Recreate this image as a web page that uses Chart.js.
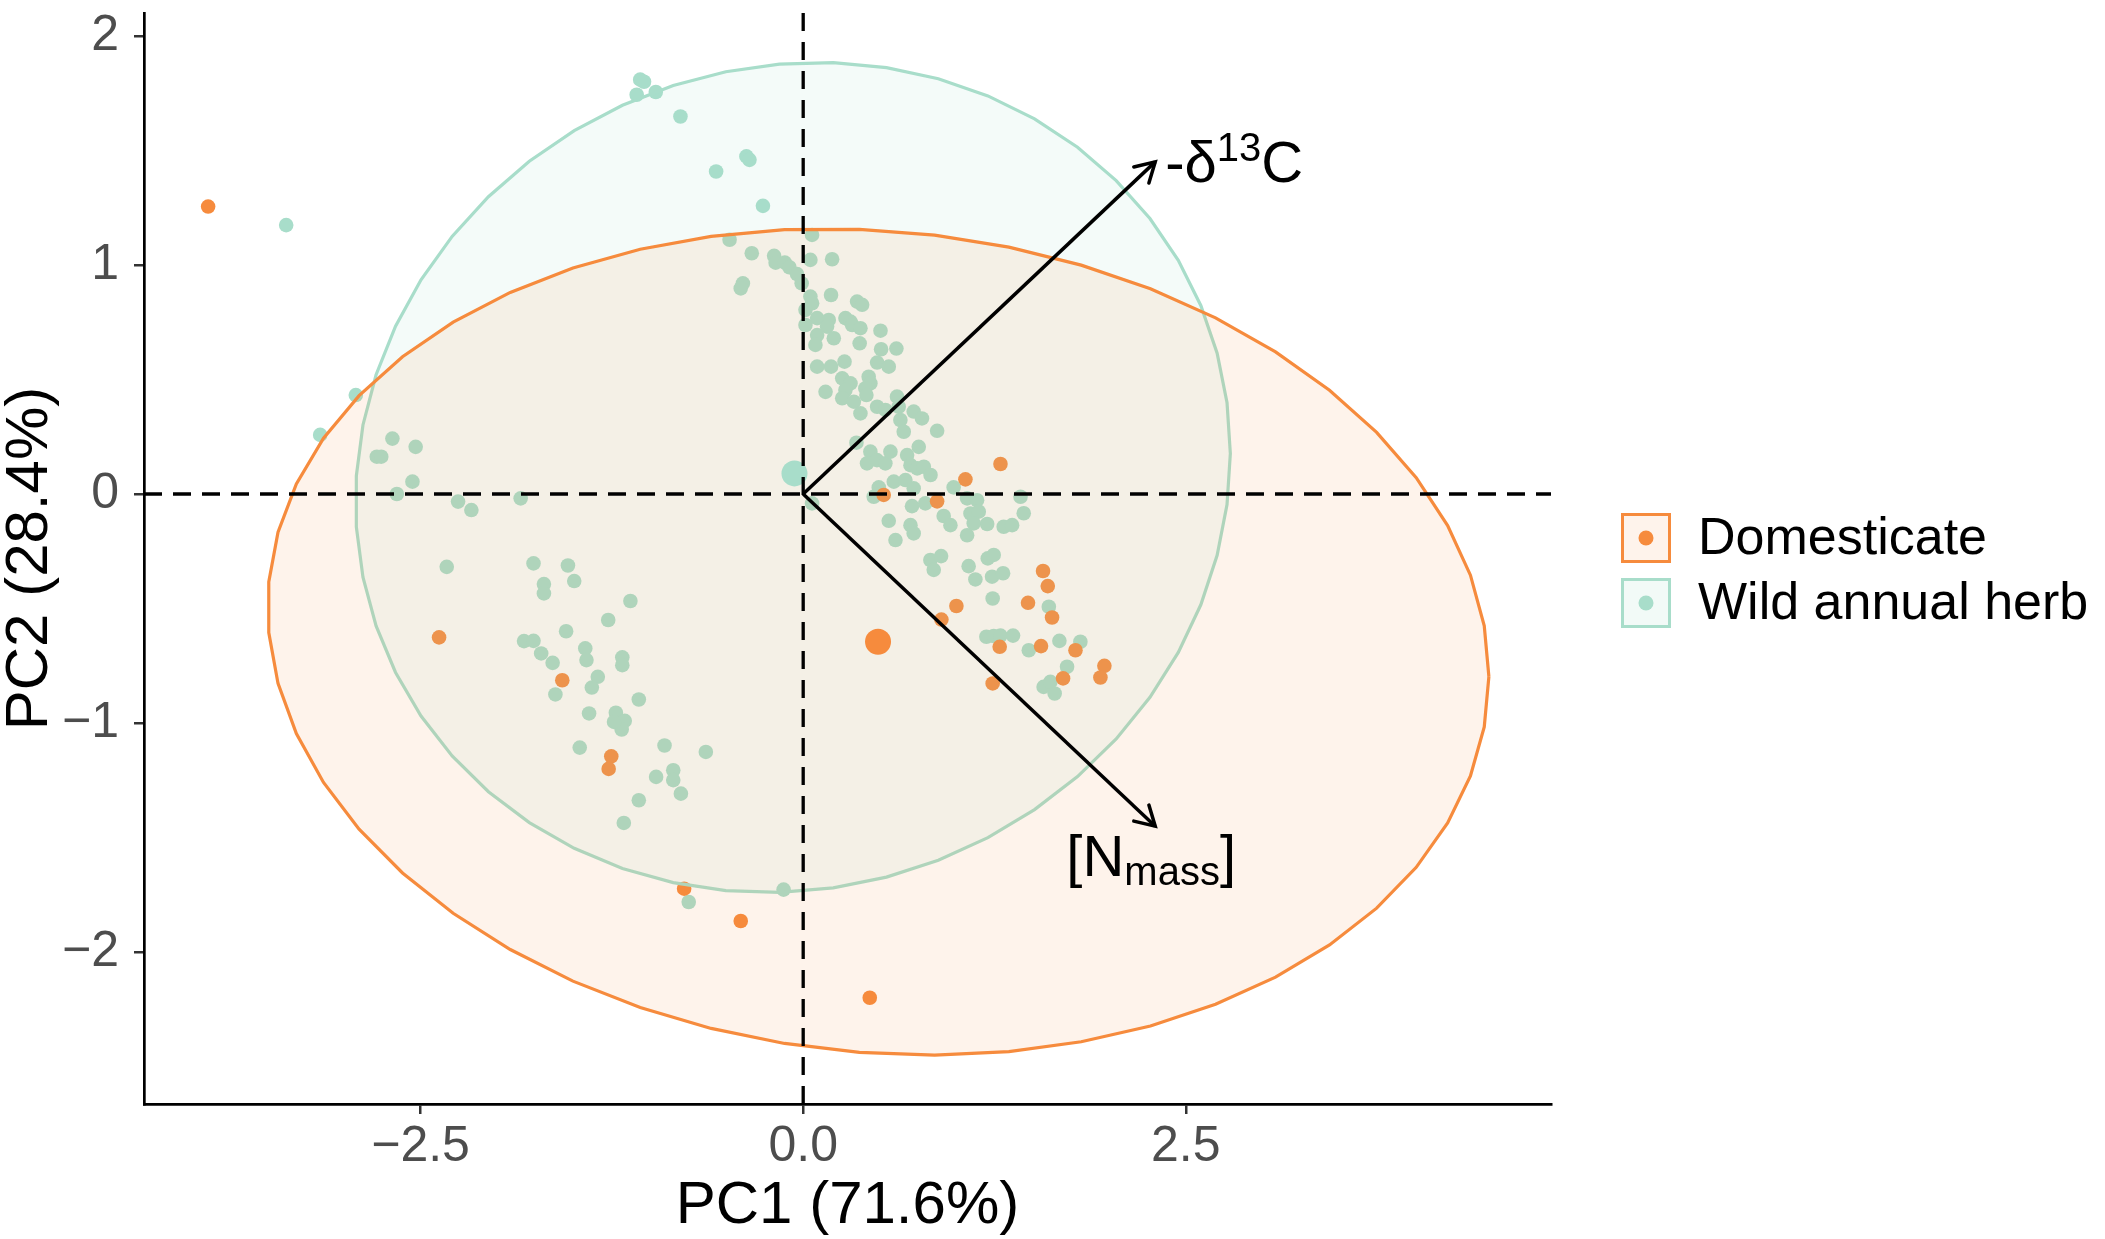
<!DOCTYPE html>
<html>
<head>
<meta charset="utf-8">
<script src="https://cdn.jsdelivr.net/npm/chart.js@4.4.1/dist/chart.umd.min.js"></script>
<style>
  html, body { margin: 0; padding: 0; background: #fff; }
  #wrap { width: 2105px; height: 1239px; }
</style>
</head>
<body>
<div id="wrap"><canvas id="pcaChart"></canvas></div>
<script>
// group labels
var groups = ['Domesticate', 'Wild annual herb'];

// PC scores
var domX = [-3.888, -2.379, -1.574, -1.254, -1.271, -0.778, -0.408, 0.435, 0.526, 0.875, 1.060, 1.289,
            1.567, 1.598, 1.469, 1.626, 1.001, 0.903, 1.284, 1.554, 1.779, 1.968, 1.942, 1.698, 1.238];
var domY = [1.255, -0.626, -0.813, -1.145, -1.200, -1.723, -1.864, -2.199, -0.004, -0.032, 0.064, 0.131,
            -0.336, -0.402, -0.475, -0.539, -0.489, -0.548, -0.667, -0.664, -0.682, -0.750, -0.801, -0.805, -0.827];

var wildX = [-3.378, -1.065, -1.040, -1.088, -0.963, -0.802, -0.371, -0.351, -0.569, -0.263, -0.481, -0.336,
             -0.190, -0.180, -0.120, -0.090, -0.040, -0.010, -0.394, -0.408, 0.058, 0.047, 0.189, 0.047,
             0.058, 0.182, 0.352, 0.385, 0.015, 0.091, 0.167, 0.156, 0.015, 0.091, 0.080, 0.200,
             0.276, 0.309, 0.320, 0.374, 0.369, 0.505, 0.509, 0.609, 0.483, 0.559, 0.091, 0.182,
             0.270, 0.255, 0.309, 0.276, 0.255, 0.331, 0.374, 0.146, 0.428, 0.439, 0.406, 0.413,
             0.613, 0.483, 0.537, 0.624, 0.722, 0.776, 0.635, 0.657, 0.875, 0.348, 0.755, 0.439,
             0.417, 0.482, 0.537, 0.570, 0.679, 0.701, 0.745, 0.788, 0.832, 0.592, 0.668, 0.722,
             0.494, 0.461, 0.983, 0.058, 0.711, 0.798, 0.918, 0.962, 0.559, 0.603, 0.701, 0.722,
             1.071, 1.136, 1.093, 1.147, 1.114, 1.202, 1.071, 1.310, 1.365, 1.420, 1.441, 0.831,
             0.901, 0.853, 1.081, 1.125, 1.206, 1.245, 1.234, 1.306, 1.238, 1.605, 1.197, 1.245,
             1.289, 1.371, 1.474, 1.674, 1.811, 1.724, 1.571, 1.615, 1.643,
             -2.923, -3.156, -2.684, -2.532, -2.786, -2.757, -2.553, -2.655, -2.255, -2.168, -1.846,
             -2.329, -1.762, -1.537, -1.694, -1.694, -1.496, -1.129, -1.274, -1.549, -1.824, -1.762,
             -1.712, -1.637, -1.424, -1.416, -1.182, -1.182, -1.342, -1.381, -1.619, -1.074, -1.399,
             -1.224, -1.166, -1.186, -1.236, -1.460, -0.906, -0.636, -0.849, -0.849, -0.799, -0.961,
             -1.074, -1.172, -0.748, -0.128];
var wildY = [1.174, 1.809, 1.800, 1.743, 1.755, 1.648, 1.474, 1.459, 1.408, 1.258, 1.110, 1.051,
             1.040, 1.010, 1.010, 0.990, 0.960, 0.920, 0.920, 0.898, 1.131, 1.022, 1.025, 0.862,
             0.833, 0.869, 0.840, 0.826, 0.804, 0.768, 0.760, 0.731, 0.738, 0.694, 0.651, 0.680,
             0.768, 0.753, 0.738, 0.724, 0.658, 0.713, 0.632, 0.635, 0.574, 0.556, 0.556, 0.556,
             0.578, 0.505, 0.483, 0.454, 0.418, 0.403, 0.352, 0.446, 0.512, 0.483, 0.461, 0.432,
             0.425, 0.381, 0.367, 0.381, 0.360, 0.330, 0.323, 0.272, 0.276, 0.224, 0.206, 0.185,
             0.134, 0.148, 0.134, 0.185, 0.170, 0.126, 0.112, 0.119, 0.083, 0.054, 0.061, 0.025,
             0.029, -0.012, 0.029, -0.041, -0.053, -0.041, -0.096, -0.136, -0.117, -0.201, -0.136, -0.172,
             -0.019, -0.027, -0.085, -0.077, -0.128, -0.131, -0.180, -0.143, -0.136, -0.012, -0.084, -0.288,
             -0.271, -0.331, -0.315, -0.373, -0.281, -0.266, -0.361, -0.346, -0.456, -0.492, -0.623, -0.620,
             -0.618, -0.618, -0.682, -0.641, -0.645, -0.754, -0.842, -0.820, -0.871,
             0.432, 0.258, 0.242, 0.206, 0.163, 0.163, 0.054, 0.000, -0.033, -0.070, -0.019,
             -0.318, -0.303, -0.312, -0.393, -0.434, -0.380, -0.467, -0.550, -0.599, -0.642, -0.641,
             -0.696, -0.737, -0.674, -0.725, -0.713, -0.747, -0.798, -0.845, -0.875, -0.897, -0.958,
             -0.955, -0.990, -1.028, -0.995, -1.107, -1.098, -1.126, -1.206, -1.249, -1.308, -1.235,
             -1.337, -1.436, -1.781, -1.727];

// group centroids (large dots)
var centroidX = [0.489, -0.057];
var centroidY = [-0.645, 0.090];

// variable loadings (arrows)
var loadingX = [2.30, 2.30];
var loadingY = [1.45, -1.45];

// axis ticks
var xTicks = [-2.5, 0, 2.5];
var xTickLabels = ['\u22122.5', '0.0', '2.5'];
var yTicks = [-2, -1, 0, 1, 2];
var yTickLabels = ['\u22122', '\u22121', '0', '1', '2'];

var FONT = "'Liberation Sans', Arial, sans-serif";
var ORANGE = '#F68B3D';
var TEAL = '#A8DDCA';
var ORANGE_FILL = 'rgba(246,139,61,0.1)';
var TEAL_FILL = 'rgba(168,221,202,0.12)';

function toPoints(xs, ys) {
    return xs.map(function(v, i) { return {x: v, y: ys[i]}; });
}

// normal-theory confidence ellipse (level 0.95), same recipe as ggplot2's stat_ellipse
function ellipse(xs, ys, level, segments) {
    var n = xs.length;
    var mx = 0, my = 0;
    for (var i = 0; i < n; i++) { mx += xs[i]; my += ys[i]; }
    mx /= n; my /= n;
    var sxx = 0, syy = 0, sxy = 0;
    for (var i = 0; i < n; i++) {
        var dx = xs[i] - mx, dy = ys[i] - my;
        sxx += dx * dx; syy += dy * dy; sxy += dx * dy;
    }
    sxx /= (n - 1); syy /= (n - 1); sxy /= (n - 1);
    var a = Math.sqrt(sxx), b = sxy / a, c = Math.sqrt(syy - b * b);
    var dfd = n - 1;
    var fq = dfd / 2 * (Math.pow(1 - level, -2 / dfd) - 1); // qf(level, 2, dfd)
    var r = Math.sqrt(2 * fq);
    var pts = [];
    for (var k = 0; k <= segments; k++) {
        var t = k * 2 * Math.PI / segments;
        pts.push({x: mx + r * a * Math.cos(t), y: my + r * (b * Math.cos(t) + c * Math.sin(t))});
    }
    return pts;
}

function fmtTick(values, labels) {
    return function(v) {
        var i = values.indexOf(Math.round(v * 100) / 100);
        return i < 0 ? '' : labels[i];
    };
}

// dashed zero lines, arrow heads, arrow labels and the legend
var overlay = {
    id: 'overlay',
    afterDatasetsDraw: function(chart) {
        var ctx = chart.ctx, a = chart.chartArea;
        var sx = chart.scales.x, sy = chart.scales.y;
        var x0 = sx.getPixelForValue(0), y0 = sy.getPixelForValue(0);
        ctx.save();
        ctx.strokeStyle = '#000';
        ctx.lineWidth = 3.3;
        ctx.setLineDash([18, 11]);
        ctx.beginPath();
        ctx.moveTo(a.left, y0); ctx.lineTo(a.right, y0);
        ctx.moveTo(x0, a.top); ctx.lineTo(x0, a.bottom);
        ctx.stroke();
        ctx.setLineDash([]);

        // arrow heads
        ctx.lineWidth = 3.5;
        ctx.lineCap = 'round';
        for (var i = 0; i < loadingX.length; i++) {
            var tx = sx.getPixelForValue(loadingX[i]), ty = sy.getPixelForValue(loadingY[i]);
            var ang = Math.atan2(ty - y0, tx - x0);
            var L = 22;
            ctx.beginPath();
            ctx.moveTo(tx - L * Math.cos(ang - Math.PI / 6), ty - L * Math.sin(ang - Math.PI / 6));
            ctx.lineTo(tx, ty);
            ctx.lineTo(tx - L * Math.cos(ang + Math.PI / 6), ty - L * Math.sin(ang + Math.PI / 6));
            ctx.stroke();
        }

        // arrow labels
        ctx.fillStyle = '#000';
        ctx.textBaseline = 'alphabetic';
        ctx.textAlign = 'left';
        var big = '58px ' + FONT, small = '40px ' + FONT;
        // -δ13C
        var px = sx.getPixelForValue(loadingX[0]) + 10;
        var py = sy.getPixelForValue(loadingY[0]) + 20;
        ctx.font = big; ctx.fillText('-\u03B4', px, py); px += ctx.measureText('-\u03B4').width;
        ctx.font = small; ctx.fillText('13', px, py - 21); px += ctx.measureText('13').width;
        ctx.font = big; ctx.fillText('C', px, py);
        // [Nmass]
        ctx.font = big; var w1 = ctx.measureText('[N').width, w3 = ctx.measureText(']').width;
        ctx.font = small; var w2 = ctx.measureText('mass').width;
        px = sx.getPixelForValue(loadingX[1]) - (w1 + w2 + w3) / 2 - 4;
        py = sy.getPixelForValue(loadingY[1]) + 50;
        ctx.font = big; ctx.fillText('[N', px, py); px += w1;
        ctx.font = small; ctx.fillText('mass', px, py + 9); px += w2;
        ctx.font = big; ctx.fillText(']', px, py);
        ctx.restore();
    },
    afterDraw: function(chart) {
        var ctx = chart.ctx;
        var cols = [ORANGE, TEAL], fills = ['rgba(246,139,61,0.1)', 'rgba(168,221,202,0.15)'];
        ctx.save();
        for (var i = 0; i < groups.length; i++) {
            var kx = 1621, ky = 513 + i * 65, ks = 50;
            ctx.fillStyle = '#fff';
            ctx.fillRect(kx, ky, ks, ks);
            ctx.fillStyle = fills[i];
            ctx.fillRect(kx, ky, ks, ks);
            ctx.strokeStyle = cols[i];
            ctx.lineWidth = 3;
            ctx.strokeRect(kx + 1.5, ky + 1.5, ks - 3, ks - 3);
            ctx.fillStyle = cols[i];
            ctx.beginPath();
            ctx.arc(kx + ks / 2, ky + ks / 2, 7.5, 0, 2 * Math.PI);
            ctx.fill();
            ctx.fillStyle = '#000';
            ctx.font = '52px ' + FONT;
            ctx.textBaseline = 'middle';
            ctx.textAlign = 'left';
            ctx.fillText(groups[i], 1698, ky + ks / 2 + 2);
        }
        ctx.restore();
    }
};

var ctx = document.getElementById('pcaChart').getContext('2d');
var pcaChart = new Chart(ctx, {
    type: 'scatter',
    data: {
        datasets: [{
            type: 'line',
            label: 'loading -d13C',
            data: [{x: 0, y: 0}, {x: loadingX[0], y: loadingY[0]}],
            borderColor: '#000',
            borderWidth: 3.5,
            pointRadius: 0,
            order: 0
        }, {
            type: 'line',
            label: 'loading Nmass',
            data: [{x: 0, y: 0}, {x: loadingX[1], y: loadingY[1]}],
            borderColor: '#000',
            borderWidth: 3.5,
            pointRadius: 0,
            order: 0
        }, {
            label: groups[0] + ' centroid',
            data: [{x: centroidX[0], y: centroidY[0]}],
            backgroundColor: ORANGE,
            borderWidth: 0,
            pointRadius: 13,
            order: 1
        }, {
            label: groups[1] + ' centroid',
            data: [{x: centroidX[1], y: centroidY[1]}],
            backgroundColor: TEAL,
            borderWidth: 0,
            pointRadius: 13,
            order: 1
        }, {
            type: 'line',
            label: groups[0] + ' ellipse',
            data: ellipse(domX, domY, 0.95, 51),
            borderColor: ORANGE,
            borderWidth: 3.2,
            backgroundColor: ORANGE_FILL,
            fill: 'shape',
            pointRadius: 0,
            tension: 0,
            order: 2
        }, {
            type: 'line',
            label: groups[1] + ' ellipse',
            data: ellipse(wildX, wildY, 0.95, 51),
            borderColor: TEAL,
            borderWidth: 3.2,
            backgroundColor: TEAL_FILL,
            fill: 'shape',
            pointRadius: 0,
            tension: 0,
            order: 3
        }, {
            label: groups[0],
            data: toPoints(domX, domY),
            backgroundColor: ORANGE,
            borderWidth: 0,
            pointRadius: 7.3,
            order: 4
        }, {
            label: groups[1],
            data: toPoints(wildX, wildY),
            backgroundColor: TEAL,
            borderWidth: 0,
            pointRadius: 7.3,
            order: 5
        }]
    },
    options: {
        responsive: true,
        maintainAspectRatio: false,
        animation: false,
        devicePixelRatio: 1,
        events: [],
        layout: { padding: { top: 13, right: 554, left: 0, bottom: 0 } },
        plugins: {
            legend: { display: false },
            tooltip: { enabled: false }
        },
        scales: {
            x: {
                type: 'linear',
                min: -4.307,
                max: 4.886,
                afterBuildTicks: function(axis) {
                    axis.ticks = xTicks.map(function(v) { return {value: v}; });
                },
                afterFit: function(scale) {
                    scale.height = 135;
                    scale.paddingLeft = 0;
                    scale.paddingRight = 0;
                },
                ticks: {
                    callback: fmtTick(xTicks, xTickLabels),
                    font: { family: FONT, size: 50 },
                    color: '#4D4D4D',
                    padding: 3,
                    maxRotation: 0,
                    autoSkip: false
                },
                grid: { display: true, drawOnChartArea: false, drawTicks: true, tickLength: 10, color: '#333', lineWidth: 2.5 },
                border: { display: true, color: '#000', width: 2.7 },
                title: {
                    display: true,
                    text: 'PC1 (71.6%)',
                    color: '#000',
                    font: { family: FONT, size: 60, lineHeight: 1 },
                    padding: { top: 0, bottom: 3 }
                }
            },
            y: {
                type: 'linear',
                min: -2.663,
                max: 2.10,
                afterBuildTicks: function(axis) {
                    axis.ticks = yTicks.map(function(v) { return {value: v}; });
                },
                afterFit: function(scale) {
                    scale.width = 144;
                    scale.paddingTop = 0;
                    scale.paddingBottom = 0;
                },
                ticks: {
                    callback: fmtTick(yTicks, yTickLabels),
                    font: { family: FONT, size: 50 },
                    color: '#4D4D4D',
                    padding: 15,
                    autoSkip: false
                },
                grid: { display: true, drawOnChartArea: false, drawTicks: true, tickLength: 10, color: '#333', lineWidth: 2.5 },
                border: { display: true, color: '#000', width: 2.7 },
                title: {
                    display: true,
                    text: 'PC2 (28.4%)',
                    color: '#000',
                    font: { family: FONT, size: 60, lineHeight: 1 },
                    padding: { top: 0, bottom: 0 }
                }
            }
        }
    },
    plugins: [overlay]
});
</script>
</body>
</html>
